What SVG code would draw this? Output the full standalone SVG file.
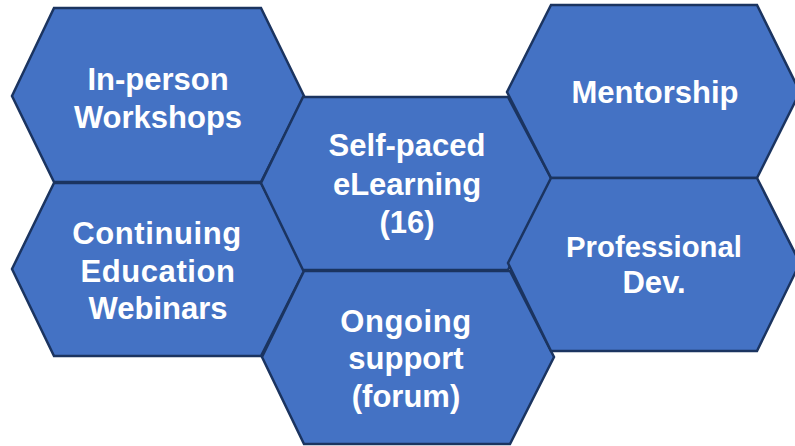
<svg xmlns="http://www.w3.org/2000/svg" width="795" height="446" viewBox="0 0 795 446">
  <style>
    .hex { fill: #4472C4; stroke: #1B3460; stroke-width: 2.5; stroke-linejoin: miter; }
    .lbl { fill: #FFFFFF; font-family: "Liberation Sans", Arial, sans-serif; font-weight: bold; font-size: 31px; text-anchor: middle; }
  </style>
  <rect width="795" height="446" fill="#FFFFFF"/>
  <g id="node-inperson">
    <polygon class="hex" points="54,8 261,8 304,96 261,182 54,182 12,96"/>
    <text class="lbl" x="158" y="90">In-person</text>
    <text class="lbl" x="158" y="128">Workshops</text>
  </g>
  <g id="node-continuing">
    <polygon class="hex" points="54,183 261,183 305,269 261,356 54,356 12,269"/>
    <text class="lbl" x="157" y="244" letter-spacing="0.6">Continuing</text>
    <text class="lbl" x="158" y="282" letter-spacing="0.6">Education</text>
    <text class="lbl" x="158" y="319">Webinars</text>
  </g>
  <g id="node-selfpaced">
    <polygon class="hex" points="303,97 508,97 552,180 508,270 303,270 261,183"/>
    <text class="lbl" x="407" y="156">Self-paced</text>
    <text class="lbl" x="407" y="195">eLearning</text>
    <text class="lbl" x="407" y="233">(16)</text>
  </g>
  <g id="node-ongoing">
    <polygon class="hex" points="304,271 510,271 554,357 510,444 304,444 262,357"/>
    <text class="lbl" x="406" y="332" letter-spacing="0.6">Ongoing</text>
    <text class="lbl" x="406" y="369">support</text>
    <text class="lbl" x="406" y="407">(forum)</text>
  </g>
  <g id="node-mentorship">
    <polygon class="hex" points="551,5 757,5 800,92 757,178 551,178 507,92"/>
    <text class="lbl" x="655" y="103">Mentorship</text>
  </g>
  <g id="node-professional">
    <polygon class="hex" points="551,178 757,178 800,263 757,351 551,351 508,263"/>
    <text class="lbl" x="654" y="257" style="font-size:29.3px">Professional</text>
    <text class="lbl" x="654" y="293">Dev.</text>
  </g>
  <g id="connectors"></g>
</svg>
